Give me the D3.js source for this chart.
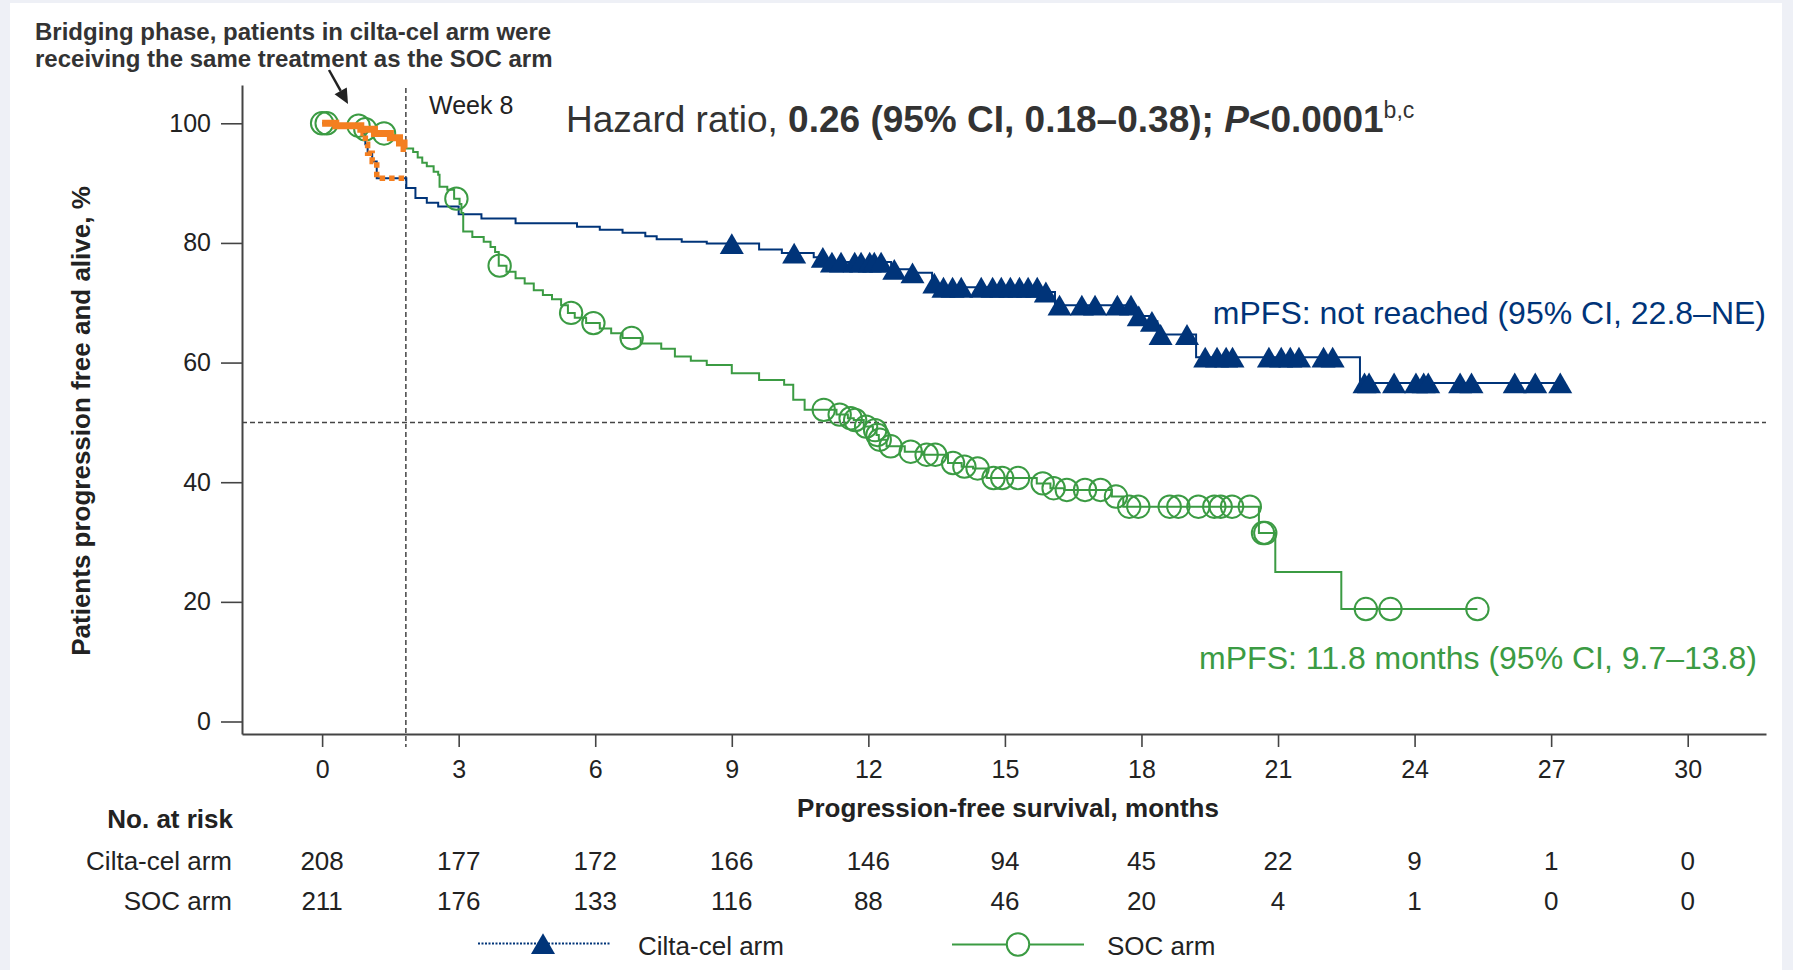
<!DOCTYPE html>
<html>
<head>
<meta charset="utf-8">
<script src="https://cdn.jsdelivr.net/npm/d3@7"></script>
<style>
  body { margin: 0; background: #eef0f6; }
  svg { display: block; font-family: "Liberation Sans", Arial, sans-serif; }
</style>
</head>
<body>
<svg id="chart" width="1793" height="970"></svg>
<script>
// tick values and number at risk
var monthTicks = [0, 3, 6, 9, 12, 15, 18, 21, 24, 27, 30];
var pctTicks = [0, 20, 40, 60, 80, 100];
var ciltaRisk = [208, 177, 172, 166, 146, 94, 45, 22, 9, 1, 0];
var socRisk = [211, 176, 133, 116, 88, 46, 20, 4, 1, 0, 0];

// cilta-cel arm: step times (months) and survival (%) after each step
var ciltaTimes = [0, 0.3, 0.85, 0.9, 0.95, 1.0, 1.1, 1.2, 1.85, 2.05, 2.3, 2.55, 3.0, 3.5, 4.25, 5.6, 6.1, 6.6, 7.1, 7.35, 7.9, 8.45, 9.6, 10.1, 10.8, 11.05, 12.5, 12.95, 13.4, 13.5, 15.75, 16.1, 17.85, 18.2, 18.35, 19.2, 22.8];
var ciltaSurv = [100, 99.5, 99.0, 98.3, 96.5, 95.0, 93.6, 90.8, 89.2, 87.5, 86.7, 86.1, 84.8, 84.1, 83.3, 82.7, 82.2, 81.7, 81.1, 80.6, 80.2, 79.9, 78.9, 78.3, 77.6, 76.8, 75.6, 75.0, 73.3, 72.6, 71.8, 69.6, 67.8, 66.9, 64.7, 60.9, 56.6];
var ciltaEnd = 27.25;
var ciltaCensor = [9.0, 10.37, 11.0, 11.2, 11.4, 11.7, 11.84, 12.03, 12.13, 12.28, 12.57, 12.97, 13.45, 13.65, 13.85, 14.04, 14.48, 14.73, 14.92, 15.12, 15.32, 15.51, 15.71, 15.9, 16.2, 16.69, 16.98, 17.47, 17.77, 17.94, 18.23, 18.42, 19.0, 19.4, 19.66, 19.86, 20.0, 20.8, 21.07, 21.27, 21.46, 22.0, 22.2, 22.9, 23.0, 23.55, 24.03, 24.2, 24.3, 25.0, 25.25, 26.2, 26.65, 27.2];

// SOC arm
var socTimes = [0, 0.3, 0.85, 1.15, 1.5, 1.7, 1.8, 2.0, 2.1, 2.2, 2.3, 2.45, 2.55, 2.58, 2.75, 2.9, 3.02, 3.06, 3.1, 3.3, 3.55, 3.7, 3.8, 3.88, 4.05, 4.25, 4.45, 4.65, 4.85, 5.05, 5.25, 5.4, 5.55, 5.8, 6.1, 6.35, 6.6, 7.0, 7.45, 7.75, 8.1, 8.45, 9.0, 9.6, 10.15, 10.35, 10.6, 11.3, 11.55, 11.68, 11.9, 12.1, 12.18, 12.23, 12.4, 12.8, 13.2, 13.75, 14.05, 14.3, 14.6, 15.7, 16.0, 16.3, 17.35, 17.6, 20.58, 20.94, 22.39];
var socSurv = [100, 99.6, 99.0, 98.3, 97.6, 96.7, 95.8, 95.2, 94.3, 93.4, 92.8, 91.9, 91.4, 89.4, 88.9, 87.4, 86.5, 85.0, 81.9, 81.0, 80.2, 79.3, 78.5, 76.2, 75.2, 74.1, 73.2, 72.1, 71.3, 70.6, 69.6, 68.3, 67.5, 66.6, 65.7, 64.9, 64.1, 63.2, 62.3, 61.0, 60.3, 59.6, 58.2, 57.1, 56.3, 53.8, 52.1, 51.3, 50.7, 50.4, 49.3, 48.7, 47.9, 47.1, 46.0, 45.1, 44.6, 43.2, 42.6, 42.3, 40.7, 39.8, 39.0, 38.7, 37.6, 35.9, 31.5, 25.0, 18.8];
var socEnd = 25.38;
var socCensor = [0, 0.1, 0.8, 0.95, 1.36, 2.95, 3.9, 5.47, 5.96, 6.8, 11.02, 11.37, 11.61, 11.71, 11.95, 12.15, 12.2, 12.25, 12.49, 12.93, 13.28, 13.47, 13.86, 14.11, 14.4, 14.75, 14.94, 15.29, 15.83, 16.07, 16.36, 16.76, 17.1, 17.44, 17.73, 17.93, 18.62, 18.81, 19.25, 19.6, 19.74, 19.99, 20.38, 20.67, 20.72, 22.93, 23.47, 25.38];

var week8 = 8 * 7 / 30.4375;
var bridgeSplit = 0.88; // where the cilta-cel curve leaves the SOC curve

var navy = "#003479", green = "#3b9b43", orange = "#f47f20", ink = "#222";

var svg = d3.select("#chart");

// white card
svg.append("rect")
  .attr("x", 10).attr("y", 3)
  .attr("width", 1772).attr("height", 967)
  .attr("fill", "#fff");

var x = d3.scaleLinear().domain([-1.76, 31.72]).range([242, 1766]);
var y = d3.scaleLinear().domain([-2.09, 106.4]).range([734, 85]);

// axes
var xAxis = svg.append("g")
  .attr("transform", "translate(0,734)")
  .call(d3.axisBottom(x).tickValues(monthTicks).tickSize(13).tickSizeOuter(0).tickPadding(13));
var yAxis = svg.append("g")
  .attr("transform", "translate(242,0)")
  .call(d3.axisLeft(y).tickValues(pctTicks).tickSize(21).tickSizeOuter(0).tickPadding(10));

[xAxis, yAxis].forEach(function(a) {
  a.select(".domain").attr("stroke", "#444").attr("stroke-width", 2);
  a.selectAll(".tick line").attr("stroke", "#444").attr("stroke-width", 1.6);
  a.selectAll(".tick text")
    .attr("fill", ink)
    .style("font-size", "25px")
    .style("font-family", "'Liberation Sans', Arial, sans-serif");
});

// reference lines
svg.append("line")
  .attr("x1", x(week8)).attr("x2", x(week8))
  .attr("y1", 88).attr("y2", 747)
  .attr("stroke", "#444").attr("stroke-width", 1.5)
  .attr("stroke-dasharray", "5,3");
svg.append("line")
  .attr("x1", 242).attr("x2", 1766)
  .attr("y1", y(50)).attr("y2", y(50))
  .attr("stroke", "#444").attr("stroke-width", 1.5)
  .attr("stroke-dasharray", "5,3");

function stepPoints(times, surv, end) {
  var pts = times.map(function(t, i) { return [t, surv[i]]; });
  pts.push([end, surv[surv.length - 1]]);
  return pts;
}
function survAt(times, surv, t) {
  var i = d3.bisectRight(times, t) - 1;
  return surv[Math.max(i, 0)];
}
function clipPoints(times, surv, t0, t1) {
  var pts = [[t0, survAt(times, surv, t0)]];
  times.forEach(function(t, i) {
    if (t > t0 && t < t1) pts.push([t, surv[i]]);
  });
  pts.push([t1, survAt(times, surv, t1)]);
  return pts;
}

var line = d3.line()
  .x(function(d) { return x(d[0]); })
  .y(function(d) { return y(d[1]); })
  .curve(d3.curveStepAfter);

// KM curves
svg.append("path")
  .attr("d", line(stepPoints(ciltaTimes, ciltaSurv, ciltaEnd)))
  .attr("fill", "none").attr("stroke", navy).attr("stroke-width", 2);
svg.append("path")
  .attr("d", line(stepPoints(socTimes, socSurv, socEnd)))
  .attr("fill", "none").attr("stroke", green).attr("stroke-width", 2);

// censor marks
var tri = d3.symbol().type(d3.symbolTriangle).size(250);
svg.append("g").selectAll("path")
  .data(ciltaCensor)
  .join("path")
  .attr("d", tri)
  .attr("transform", function(t) {
    return "translate(" + x(t) + "," + (y(survAt(ciltaTimes, ciltaSurv, t)) + 3.5) + ")";
  })
  .attr("fill", navy);

svg.append("g").selectAll("circle")
  .data(socCensor)
  .join("circle")
  .attr("cx", function(t) { return x(t); })
  .attr("cy", function(t) { return y(survAt(socTimes, socSurv, t)); })
  .attr("r", 11.2)
  .attr("fill", "none").attr("stroke", green).attr("stroke-width", 2);

// bridging phase highlight
svg.append("path")
  .attr("d", line(clipPoints(socTimes, socSurv, 0, week8)))
  .attr("fill", "none").attr("stroke", orange).attr("stroke-width", 7);
svg.append("path")
  .attr("d", line(clipPoints(ciltaTimes, ciltaSurv, bridgeSplit, week8)))
  .attr("fill", "none").attr("stroke", orange).attr("stroke-width", 5.5)
  .attr("stroke-dasharray", "5.5,4");

// annotation
var note = svg.append("text")
  .attr("fill", "#333").style("font-size", "24px").style("font-weight", "bold");
note.append("tspan").attr("x", 35).attr("y", 39.5).text("Bridging phase, patients in cilta-cel arm were");
note.append("tspan").attr("x", 35).attr("y", 67).text("receiving the same treatment as the SOC arm");

var a0 = [329, 70], a1 = [348, 104];
var dx = a1[0] - a0[0], dy = a1[1] - a0[1], len = Math.sqrt(dx * dx + dy * dy);
var ux = dx / len, uy = dy / len;
var bx = a1[0] - ux * 15, by = a1[1] - uy * 15;
svg.append("line")
  .attr("x1", a0[0]).attr("y1", a0[1]).attr("x2", bx).attr("y2", by)
  .attr("stroke", "#222").attr("stroke-width", 2.5);
svg.append("polygon")
  .attr("points", [a1, [bx - uy * 7, by + ux * 7], [bx + uy * 7, by - ux * 7]].map(function(p) { return p.join(","); }).join(" "))
  .attr("fill", "#222");

svg.append("text")
  .attr("x", 429).attr("y", 113.5)
  .attr("fill", ink).style("font-size", "25px")
  .text("Week 8");

var hr = svg.append("text")
  .attr("x", 566).attr("y", 131.5)
  .attr("fill", "#333").style("font-size", "37px");
hr.append("tspan").text("Hazard ratio, ");
hr.append("tspan").style("font-weight", "bold").text("0.26 (95% CI, 0.18\u20130.38); ");
hr.append("tspan").style("font-weight", "bold").style("font-style", "italic").text("P");
hr.append("tspan").style("font-weight", "bold").text("<0.0001");
hr.append("tspan").attr("dy", -14).style("font-size", "23px").text("b,c");

svg.append("text")
  .attr("x", 1766).attr("y", 324)
  .attr("text-anchor", "end")
  .attr("fill", navy).style("font-size", "32px")
  .text("mPFS: not reached (95% CI, 22.8\u2013NE)");
svg.append("text")
  .attr("x", 1757).attr("y", 669)
  .attr("text-anchor", "end")
  .attr("fill", green).style("font-size", "32px")
  .text("mPFS: 11.8 months (95% CI, 9.7\u201313.8)");

// axis titles
svg.append("text")
  .attr("transform", "translate(90,421) rotate(-90)")
  .attr("text-anchor", "middle")
  .attr("fill", ink).style("font-size", "26px").style("font-weight", "bold")
  .text("Patients progression free and alive, %");
svg.append("text")
  .attr("x", 1008).attr("y", 817)
  .attr("text-anchor", "middle")
  .attr("fill", ink).style("font-size", "26px").style("font-weight", "bold")
  .text("Progression-free survival, months");

// number at risk table
svg.append("text")
  .attr("x", 233).attr("y", 828)
  .attr("text-anchor", "end")
  .attr("fill", ink).style("font-size", "26px").style("font-weight", "bold")
  .text("No. at risk");

[["Cilta-cel arm", ciltaRisk, 869.5], ["SOC arm", socRisk, 909.5]].forEach(function(row) {
  svg.append("text")
    .attr("x", 232).attr("y", row[2])
    .attr("text-anchor", "end")
    .attr("fill", ink).style("font-size", "26px")
    .text(row[0]);
  svg.append("g").selectAll("text")
    .data(row[1])
    .join("text")
    .attr("x", function(d, i) { return x(monthTicks[i]); })
    .attr("y", row[2])
    .attr("text-anchor", "middle")
    .attr("fill", ink).style("font-size", "26px")
    .text(function(d) { return d; });
});

// legend
svg.append("line")
  .attr("x1", 478).attr("x2", 611).attr("y1", 943.5).attr("y2", 943.5)
  .attr("stroke", navy).attr("stroke-width", 2).attr("stroke-dasharray", "2,1.5");
svg.append("path")
  .attr("d", tri)
  .attr("transform", "translate(543," + (943.5 + 3.5) + ")")
  .attr("fill", navy);
svg.append("text")
  .attr("x", 638).attr("y", 955)
  .attr("fill", ink).style("font-size", "26px")
  .text("Cilta-cel arm");

svg.append("line")
  .attr("x1", 952).attr("x2", 1084).attr("y1", 944.5).attr("y2", 944.5)
  .attr("stroke", green).attr("stroke-width", 2);
svg.append("circle")
  .attr("cx", 1018).attr("cy", 944.5).attr("r", 11.2)
  .attr("fill", "#fff").attr("stroke", green).attr("stroke-width", 2);
svg.append("text")
  .attr("x", 1107).attr("y", 955)
  .attr("fill", ink).style("font-size", "26px")
  .text("SOC arm");
</script>
</body>
</html>
